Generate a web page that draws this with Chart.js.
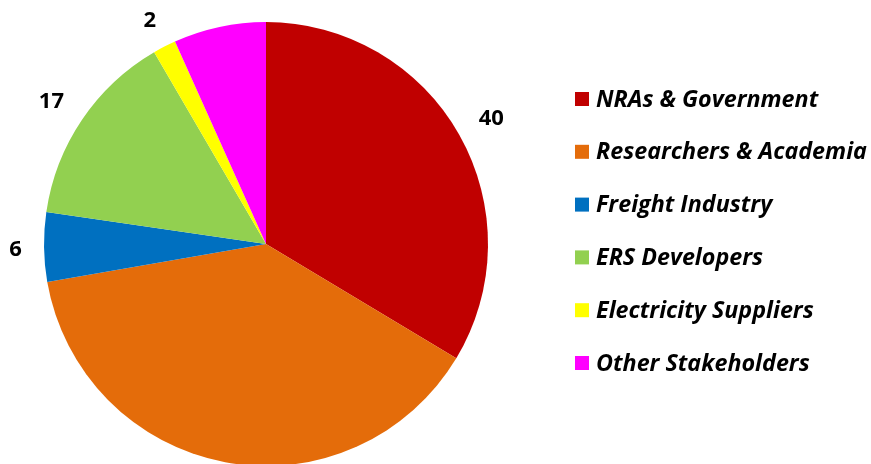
<!DOCTYPE html>
<html>
<head>
<meta charset="utf-8">
<script src="https://cdn.jsdelivr.net/npm/chart.js@4"></script>
<style>
  body { margin: 0; background: #fff; }
</style>
</head>
<body>
<canvas id="myChart" width="871" height="464"></canvas>
<script>
const labels = [
  'NRAs & Government',
  'Researchers & Academia',
  'Freight Industry',
  'ERS Developers',
  'Electricity Suppliers',
  'Other Stakeholders',
];
const values = [40, 46, 6, 17, 2, 8];
const colors = ['#C00000', '#E46C0A', '#0070C0', '#92D050', '#FFFF00', '#FF00FF'];
// only these value labels are visible in the original picture
const showValue = [true, false, true, true, true, false];

const valueLabels = {
  id: 'valueLabels',
  afterDatasetsDraw(chart) {
    const ctx = chart.ctx;
    const arcs = chart.getDatasetMeta(0).data;
    ctx.save();
    ctx.font = 'bold 22px "Open Sans"';
    ctx.fillStyle = '#000';
    ctx.textAlign = 'center';
    ctx.textBaseline = 'middle';
    arcs.forEach((arc, i) => {
      if (!showValue[i]) return;
      const mid = (arc.startAngle + arc.endAngle) / 2;
      const cos = Math.cos(mid), sin = Math.sin(mid);
      // keep the label's box a fixed gap away from the rim
      const hw = ctx.measureText(values[i]).width / 2;
      const d = arc.outerRadius + 22 + Math.abs(cos) * hw + Math.abs(sin) * 8;
      ctx.fillText(values[i], arc.x + cos * d, arc.y + sin * d + 2.5);
    });
    ctx.restore();
  }
};

const sideLegend = {
  id: 'sideLegend',
  afterDraw(chart) {
    const ctx = chart.ctx;
    ctx.save();
    // size the font so the longest entry spans like in the original
    let size = 21;
    ctx.font = 'italic bold ' + size + 'px "Open Sans"';
    const w = Math.max(...labels.map(t => ctx.measureText(t).width));
    size = size * 271 / w;
    ctx.font = 'italic bold ' + size.toFixed(2) + 'px "Open Sans"';
    ctx.textBaseline = 'middle';
    labels.forEach((text, i) => {
      const y = 99 + i * 52.8;
      ctx.fillStyle = colors[i];
      ctx.fillRect(575, y - 7, 14, 14);
      ctx.fillStyle = '#000';
      ctx.fillText(text, 596, y + 1);
    });
    ctx.restore();
  }
};

const config = {
  type: 'pie',
  data: {
    labels: labels,
    datasets: [{
      data: values,
      backgroundColor: colors,
      borderWidth: 0,
      clip: false,
    }]
  },
  options: {
    responsive: false,
    animation: false,
    radius: 222,
    layout: { padding: { left: 0, right: 339, top: 24, bottom: 0 } },
    plugins: {
      legend: { display: false },
      tooltip: { enabled: false }
    }
  },
  plugins: [valueLabels, sideLegend]
};

var myChart = new Chart(document.getElementById('myChart'), config);
</script>
</body>
</html>
